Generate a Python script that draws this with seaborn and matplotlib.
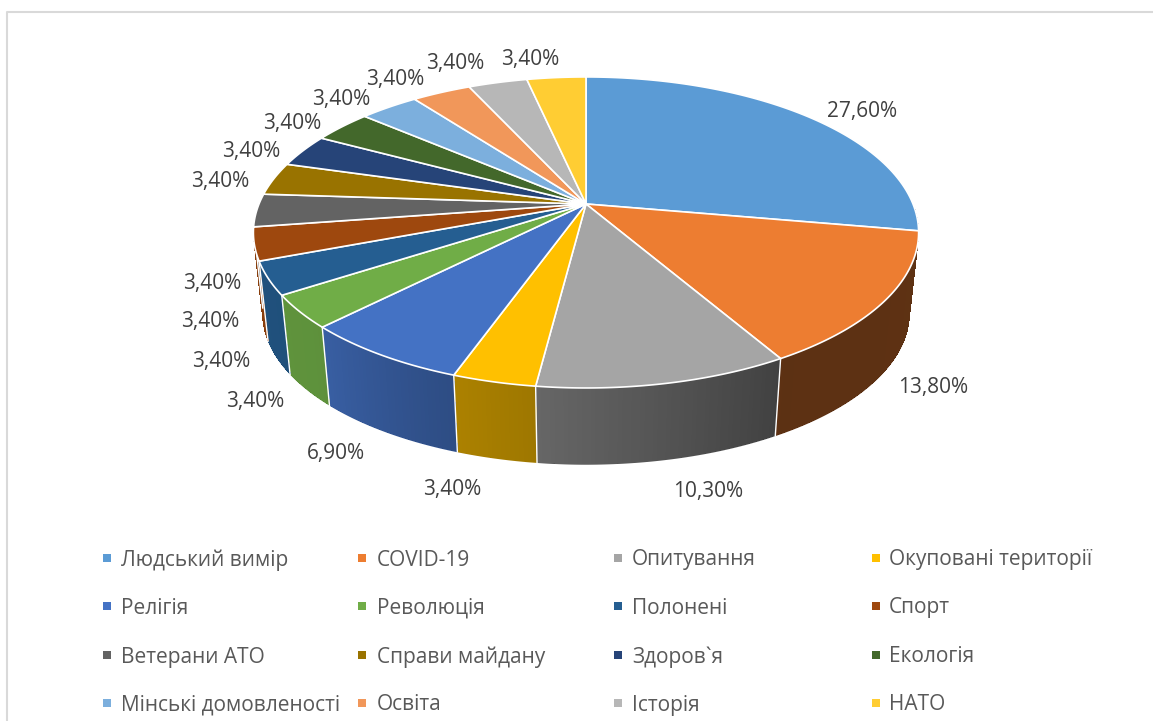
import matplotlib
matplotlib.use("Agg")
import matplotlib.pyplot as plt
import matplotlib.colors as mcolors
from matplotlib.patches import Ellipse
import seaborn as sns
import numpy as np
import pandas as pd

categories = ["Людський вимір", "COVID-19", "Опитування", "Окуповані території",
              "Релігія", "Революція", "Полонені", "Спорт",
              "Ветерани АТО", "Справи майдану", "Здоров`я", "Екологія",
              "Мінські домовленості", "Освіта", "Історія", "НАТО"]
values = [27.6, 13.8, 10.3, 3.4, 6.9, 3.4, 3.4, 3.4, 3.4, 3.4, 3.4, 3.4, 3.4, 3.4, 3.4, 3.4]
value_labels = ["27,60%", "13,80%", "10,30%", "3,40%", "6,90%", "3,40%", "3,40%", "3,40%",
                "3,40%", "3,40%", "3,40%", "3,40%", "3,40%", "3,40%", "3,40%", "3,40%"]
colors = ["#5B9BD5", "#ED7D31", "#A5A5A5", "#FFC000", "#4472C4", "#70AD47", "#255E91", "#9E480E",
          "#636363", "#997300", "#264478", "#43682B", "#7CAFDD", "#F1975A", "#B7B7B7", "#FFCD33"]

# label centres, picture pixels
label_x = [862, 933, 708, 452, 336, 255, 221, 210, 212, 220, 251, 292, 341, 395, 455, 530]
label_y = [111, 388, 491, 490, 454, 402, 361, 322, 283, 181, 151, 124, 99, 79, 64, 60]

legend_marker_x = [107, 362, 618, 876]
legend_text_x = [121, 377, 632, 889]
legend_row_y = [558, 606, 655, 703]
LEGEND_TEXT_DROP = 2

# perspective of the tilted disc
APEX_X, APEX_Y = 586, 204
K = 0.183

# side darkening by angle (deg clockwise from 12 o'clock)
shade_angle = [90, 149, 187, 203, 226, 250, 280]
shade_factor = [0.40, 0.39, 0.62, 0.69, 0.84, 0.86, 0.86]


def project(theta, a, b, y0):
    x = np.sin(theta)
    y = np.cos(theta)
    w = 1 + K * y
    return APEX_X + a * x / w, y0 - b * y / w


def top_rim(theta):
    return project(theta, 327, 150.3, APEX_Y)


def bottom_rim(theta):
    return project(theta, 318, 146, 286)


def wall_colour(color, theta):
    f = np.interp(np.degrees(theta), shade_angle, shade_factor)
    return np.array(mcolors.to_rgb(color)) * f


sns.set_theme(style="white")
plt.rcParams["font.family"] = ["Open Sans", "DejaVu Sans"]

fig = plt.figure(figsize=(11.53, 7.21), dpi=100)
ax = fig.add_axes([0, 0, 1, 1])

# border of the pasted chart, only top and left are in the crop
ax.plot([7, 7, 1153], [721, 12, 12], color="#D9D9D9", lw=1.5, zorder=1)

edges = np.cumsum([0] + values) / sum(values) * 2 * np.pi
wall_start = np.radians(92)
wall_end = np.radians(262)

# side walls
for i, color in enumerate(colors):
    start = max(edges[i], wall_start)
    end = min(edges[i + 1], wall_end)
    if end <= start:
        continue
    ts = np.linspace(start, end, 60)
    tx, ty = top_rim(ts)
    bx, by = bottom_rim(ts)
    # smooth outline first, then the gradient strips without antialiasing so no seams show
    mid = wall_colour(color, (start + end) / 2)
    ax.fill(np.r_[tx, bx[::-1]], np.r_[ty, by[::-1]], color=mid, lw=0, zorder=2)
    steps = np.linspace(start, end, max(int((end - start) * 90), 2))
    for t0, t1 in zip(steps[:-1], steps[1:]):
        seg = np.array([t0, t1])
        sx, sy = top_rim(seg)
        ex, ey = bottom_rim(seg)
        ax.fill(np.r_[sx, ex[::-1]], np.r_[sy, ey[::-1] - 1], color=wall_colour(color, t0),
                lw=0, antialiased=False, zorder=2.5)
    # white seam between neighbouring walls
    if 0 < i and edges[i] > edges[1]:
        sx, sy = top_rim(np.array(start))
        ex, ey = bottom_rim(np.array(start))
        ax.plot([sx, ex], [sy, ey], color="white", lw=1.0, zorder=3)

# top surface
for i, color in enumerate(colors):
    ts = np.linspace(edges[i], edges[i + 1], 80)
    rx, ry = top_rim(ts)
    ax.fill(np.r_[APEX_X, rx], np.r_[APEX_Y, ry], facecolor=color, edgecolor="white",
            lw=1.2, joinstyle="round", zorder=4)

# the white seams merge into a blot at the centre
ax.add_patch(Ellipse((APEX_X - 7, APEX_Y - 1), 13, 6, color="white", lw=0, zorder=4.5))

for x, y, text in zip(label_x, label_y, value_labels):
    ax.text(x, y, text, ha="center", va="center", fontsize=15, color="#404040", zorder=5)

# legend
n_cols = len(legend_marker_x)
legend_df = pd.DataFrame({
    "category": categories,
    "x": [legend_marker_x[i % n_cols] for i in range(len(categories))],
    "y": [legend_row_y[i // n_cols] for i in range(len(categories))],
})
sns.scatterplot(data=legend_df, x="x", y="y", hue="category", palette=colors, marker="s",
                s=36, linewidth=0, legend=False, ax=ax, zorder=5)
for i, name in enumerate(categories):
    ax.text(legend_text_x[i % n_cols], legend_row_y[i // n_cols] + LEGEND_TEXT_DROP, name,
            ha="left", va="center", fontsize=15, color="#595959", zorder=5)

ax.set_xlim(0, 1153)
ax.set_ylim(721, 0)
ax.axis("off")
fig.savefig("out.png", dpi=100)
